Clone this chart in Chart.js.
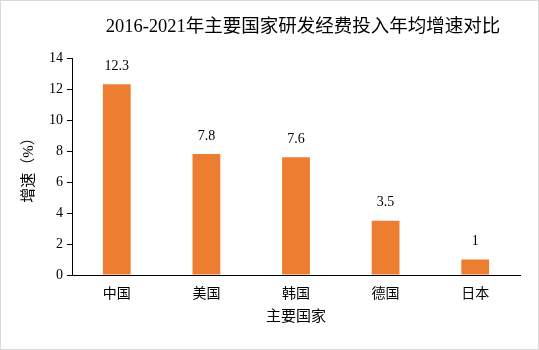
<!DOCTYPE html>
<html>
<head>
<meta charset="utf-8">
<script src="https://cdn.jsdelivr.net/npm/chart.js@4/dist/chart.umd.min.js"></script>
<style>
  html, body { margin: 0; padding: 0; background: #fff; }
  #wrap { width: 539px; height: 350px; }
</style>
</head>
<body>
<div id="wrap"><canvas id="chart" width="539" height="350"></canvas></div>
<script>
const countries = ['中国', '美国', '韩国', '德国', '日本'];
const growth = [12.3, 7.8, 7.6, 3.5, 1];
const titleText = '2016-2021年主要国家研发经费投入年均增速对比';
const FONT = '"Liberation Serif", "Noto Sans CJK SC", serif';

// frame, title and value labels
const decor = {
    id: 'decor',
    afterDraw(chart) {
        const ctx = chart.ctx;
        ctx.save();
        ctx.strokeStyle = '#d9d9d9';
        ctx.lineWidth = 1;
        ctx.strokeRect(0.5, 0.5, chart.width - 1, chart.height - 1);

        ctx.fillStyle = '#000';
        ctx.font = '18.5px ' + FONT;
        ctx.textAlign = 'center';
        ctx.textBaseline = 'middle';
        ctx.fillText(titleText, 303, 27);

        ctx.font = '14px ' + FONT;
        ctx.textBaseline = 'bottom';
        const meta = chart.getDatasetMeta(0);
        meta.data.forEach((bar, i) => {
            ctx.fillText(String(growth[i]), bar.x, bar.y - 11);
        });
        ctx.restore();
    }
};

new Chart(document.getElementById('chart').getContext('2d'), {
    type: 'bar',
    data: {
        labels: countries,
        datasets: [{ data: growth, backgroundColor: '#ED7D31', barPercentage: 0.31, categoryPercentage: 1 }]
    },
    options: {
        responsive: false,
        animation: false,
        layout: { padding: { top: 58, right: 19, bottom: 20, left: 20 } },
        plugins: { legend: { display: false }, tooltip: { enabled: false }, title: { display: false } },
        scales: {
            x: {
                grid: { display: false },
                border: { display: true, color: '#000', width: 1 },
                ticks: { color: '#000', font: { size: 14, family: FONT }, padding: 3 },
                title: { display: true, text: '主要国家', color: '#000', font: { size: 15, family: FONT }, padding: { top: 4 } },
                afterFit(scale) { scale.height = 55; }
            },
            y: {
                min: 0, max: 14,
                ticks: { stepSize: 2, color: '#000', font: { size: 14, family: FONT }, padding: 4 },
                grid: { drawOnChartArea: false, drawTicks: true, tickLength: 5, color: '#000' },
                border: { display: true, color: '#000', width: 1 },
                title: { display: true, text: '增速（%）', color: '#000', font: { size: 15, family: FONT }, padding: { top: 0, bottom: 4 } },
                afterFit(scale) { scale.width = 52; }
            }
        }
    },
    plugins: [decor]
});
</script>
</body>
</html>
